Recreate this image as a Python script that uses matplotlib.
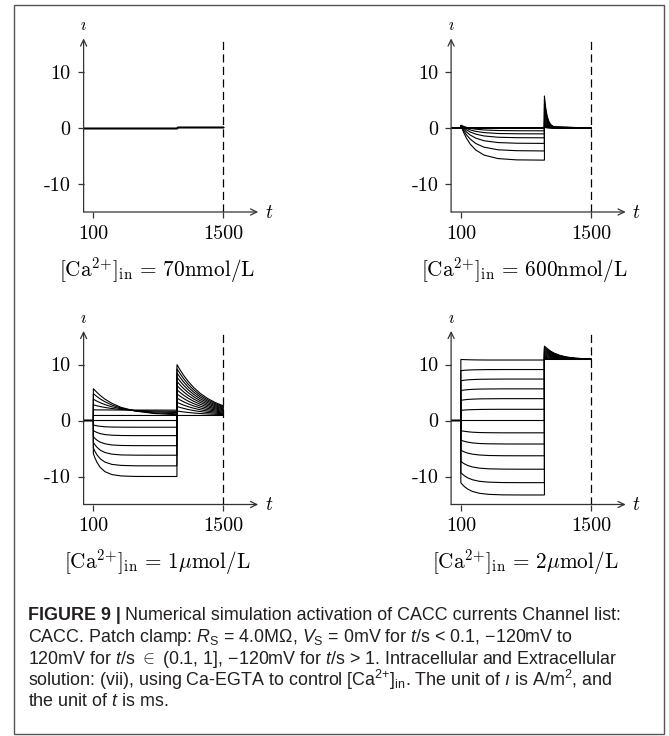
import matplotlib
matplotlib.use('Agg')
import matplotlib.pyplot as plt
from matplotlib import font_manager
from matplotlib.patches import Rectangle

# ---- data (t in ms, i in A/m^2) ----
# traces are ordered by clamp voltage -120mV ... 120mV (13 steps)
labels = [r'$[\mathrm{Ca}^{2{+}}]_{\mathrm{in}}\,=\,70\mathrm{nmol/L}$',
          r'$[\mathrm{Ca}^{2{+}}]_{\mathrm{in}}\,=\,600\mathrm{nmol/L}$',
          r'$[\mathrm{Ca}^{2{+}}]_{\mathrm{in}}\,=\,1\mu\mathrm{mol/L}$',
          r'$[\mathrm{Ca}^{2{+}}]_{\mathrm{in}}\,=\,2\mu\mathrm{mol/L}$']

# 70 nmol/L: everything stays at zero
t_pulse_70 = [100, 1000]
i_pulse_70 = [[0.0, 0.0]] * 13
t_tail_70 = [1000, 1500]
i_tail_70 = [[0.1, 0.1]] * 13

# 600 nmol/L
t_pulse_600 = [100, 110, 130, 160, 200, 260, 350, 500, 700, 1000]
i_pulse_600 = [
    [0.5, 0.04, -0.79, -1.81, -2.86, -3.92, -4.84, -5.46, -5.69, -5.74],
    [0.5, 0.16, -0.45, -1.20, -1.97, -2.76, -3.43, -3.89, -4.05, -4.10],
    [0.5, 0.26, -0.17, -0.70, -1.25, -1.80, -2.28, -2.60, -2.72, -2.75],
    [0.5, 0.33, 0.04, -0.33, -0.71, -1.09, -1.42, -1.65, -1.73, -1.75],
    [0.5, 0.39, 0.18, -0.07, -0.33, -0.60, -0.82, -0.98, -1.03, -1.05],
    [0.5, 0.43, 0.29, 0.13, -0.04, -0.21, -0.35, -0.45, -0.49, -0.50],
    [0.0, 0.0, 0.0, 0.0, 0.0, 0.0, 0.0, 0.0, 0.0, 0.0],
    [0.0, 0.0, 0.0, 0.0, 0.0, 0.0, 0.0, 0.0, 0.0, 0.0],
    [0.0, 0.0, 0.0, 0.0, 0.0, 0.0, 0.0, 0.0, 0.0, 0.0],
    [0.0, 0.0, 0.0, 0.0, 0.0, 0.0, 0.0, 0.0, 0.0, 0.0],
    [0.0, 0.0, 0.0, 0.0, 0.0, 0.0, 0.0, 0.0, 0.0, 0.0],
    [0.0, 0.0, 0.0, 0.0, 0.0, 0.0, 0.0, 0.0, 0.0, 0.0],
    [0.0, 0.0, 0.0, 0.0, 0.0, 0.0, 0.0, 0.0, 0.0, 0.0],
]
t_tail_600 = [1000, 1005, 1012, 1020, 1030, 1045, 1065, 1100, 1500]
i_tail_600 = [
    [5.75, 4.86, 3.85, 2.95, 2.12, 1.28, 0.66, 0.21, 0.0],
    [5.00, 4.23, 3.35, 2.57, 1.84, 1.12, 0.58, 0.18, 0.0],
    [4.30, 3.64, 2.88, 2.21, 1.58, 0.96, 0.49, 0.15, 0.0],
    [3.60, 3.05, 2.41, 1.85, 1.32, 0.80, 0.41, 0.13, 0.0],
    [2.90, 2.45, 1.94, 1.49, 1.07, 0.65, 0.33, 0.10, 0.0],
    [2.20, 1.86, 1.47, 1.13, 0.81, 0.49, 0.25, 0.08, 0.0],
    [1.60, 1.35, 1.07, 0.82, 0.59, 0.36, 0.18, 0.06, 0.0],
    [1.20, 1.02, 0.80, 0.62, 0.44, 0.27, 0.14, 0.04, 0.0],
    [0.90, 0.76, 0.60, 0.46, 0.33, 0.20, 0.10, 0.03, 0.0],
    [0.60, 0.51, 0.40, 0.31, 0.22, 0.13, 0.07, 0.02, 0.0],
    [0.40, 0.34, 0.27, 0.21, 0.15, 0.09, 0.05, 0.01, 0.0],
    [0.20, 0.17, 0.13, 0.10, 0.07, 0.04, 0.02, 0.01, 0.0],
    [0.10, 0.08, 0.07, 0.05, 0.04, 0.02, 0.01, 0.00, 0.0],
]

# 1 umol/L
t_pulse_1u = [100, 115, 140, 175, 225, 300, 400, 550, 750, 1000]
i_pulse_1u = [
    [-5.9, -6.60, -7.51, -8.39, -9.14, -9.66, -9.90, -9.99, -10.0, -10.0],
    [-4.9, -5.45, -6.16, -6.85, -7.43, -7.84, -8.02, -8.09, -8.1, -8.1],
    [-3.9, -4.29, -4.80, -5.30, -5.72, -6.01, -6.15, -6.19, -6.2, -6.2],
    [-2.9, -3.17, -3.53, -3.87, -4.16, -4.37, -4.46, -4.49, -4.5, -4.5],
    [-1.8, -1.95, -2.15, -2.35, -2.51, -2.63, -2.68, -2.70, -2.7, -2.7],
    [-0.8, -0.87, -0.96, -1.04, -1.12, -1.17, -1.19, -1.20, -1.2, -1.2],
    [0.0, 0.0, 0.0, 0.0, 0.0, 0.0, 0.0, 0.0, 0.0, 0.0],
    [0.9, 0.9, 0.9, 0.9, 0.9, 0.9, 0.9, 0.9, 0.9, 0.9],
    [1.9, 1.9, 1.9, 1.89, 1.89, 1.88, 1.87, 1.86, 1.86, 1.85],
    [2.8, 2.73, 2.62, 2.49, 2.33, 2.14, 1.96, 1.80, 1.69, 1.63],
    [3.8, 3.66, 3.44, 3.17, 2.84, 2.45, 2.09, 1.75, 1.53, 1.42],
    [4.8, 4.59, 4.25, 3.84, 3.35, 2.76, 2.21, 1.71, 1.37, 1.20],
    [5.7, 5.42, 4.99, 4.46, 3.81, 3.06, 2.34, 1.69, 1.26, 1.03],
]
t_tail_1u = [1000, 1030, 1070, 1120, 1180, 1250, 1330, 1420, 1500]
i_tail_1u = [
    [10.0, 9.14, 8.11, 7.00, 5.90, 4.86, 3.93, 3.15, 2.62],
    [9.25, 8.46, 7.51, 6.49, 5.48, 4.53, 3.68, 2.96, 2.48],
    [8.50, 7.78, 6.92, 5.99, 5.07, 4.21, 3.43, 2.78, 2.34],
    [7.75, 7.10, 6.33, 5.49, 4.66, 3.88, 3.18, 2.59, 2.19],
    [7.00, 6.42, 5.73, 4.99, 4.25, 3.55, 2.93, 2.41, 2.05],
    [6.25, 5.74, 5.14, 4.48, 3.84, 3.23, 2.68, 2.22, 1.91],
    [5.50, 5.06, 4.54, 3.98, 3.43, 2.90, 2.43, 2.04, 1.77],
    [4.75, 4.38, 3.95, 3.48, 3.01, 2.57, 2.18, 1.85, 1.63],
    [4.00, 3.71, 3.36, 2.98, 2.60, 2.25, 1.93, 1.67, 1.49],
    [3.25, 3.03, 2.76, 2.47, 2.19, 1.92, 1.68, 1.48, 1.34],
    [2.50, 2.35, 2.17, 1.97, 1.78, 1.60, 1.43, 1.30, 1.20],
    [1.70, 1.62, 1.53, 1.44, 1.34, 1.25, 1.17, 1.10, 1.05],
    [0.90, 0.90, 0.90, 0.90, 0.90, 0.90, 0.90, 0.90, 0.90],
]

# 2 umol/L
t_pulse_2u = [100, 115, 140, 175, 225, 300, 400, 550, 750, 1000]
i_pulse_2u = [
    [-11.1, -11.41, -11.83, -12.26, -12.67, -13.0, -13.19, -13.28, -13.3, -13.3],
    [-9.3, -9.55, -9.89, -10.25, -10.58, -10.86, -11.01, -11.08, -11.1, -11.1],
    [-7.3, -7.49, -7.76, -8.04, -8.30, -8.51, -8.63, -8.68, -8.7, -8.7],
    [-5.3, -5.44, -5.63, -5.83, -6.01, -6.16, -6.25, -6.29, -6.3, -6.3],
    [-3.5, -3.60, -3.73, -3.87, -4.00, -4.11, -4.16, -4.19, -4.2, -4.2],
    [-1.8, -1.86, -1.93, -2.01, -2.09, -2.15, -2.18, -2.20, -2.2, -2.2],
    [0.0, 0.0, 0.0, 0.0, 0.0, 0.0, 0.0, 0.0, 0.0, 0.0],
    [1.8, 1.83, 1.87, 1.91, 1.94, 1.97, 1.99, 2.0, 2.0, 2.0],
    [3.6, 3.64, 3.70, 3.76, 3.81, 3.86, 3.88, 3.9, 3.9, 3.9],
    [5.35, 5.39, 5.45, 5.51, 5.56, 5.61, 5.63, 5.65, 5.65, 5.65],
    [7.1, 7.14, 7.20, 7.26, 7.31, 7.36, 7.38, 7.4, 7.4, 7.4],
    [8.9, 8.93, 8.97, 9.01, 9.04, 9.07, 9.09, 9.1, 9.1, 9.1],
    [10.9, 10.89, 10.87, 10.85, 10.83, 10.81, 10.8, 10.8, 10.8, 10.8],
]
t_tail_2u = [1000, 1020, 1045, 1075, 1110, 1160, 1230, 1330, 1500]
i_tail_2u = [
    [13.3, 12.98, 12.64, 12.30, 11.99, 11.67, 11.36, 11.13, 10.97],
    [13.1, 12.81, 12.50, 12.19, 11.90, 11.60, 11.32, 11.11, 10.96],
    [12.9, 12.63, 12.35, 12.07, 11.81, 11.54, 11.29, 11.09, 10.96],
    [12.7, 12.46, 12.21, 11.95, 11.72, 11.47, 11.25, 11.07, 10.95],
    [12.5, 12.29, 12.06, 11.84, 11.63, 11.41, 11.21, 11.05, 10.94],
    [12.3, 12.11, 11.92, 11.72, 11.54, 11.35, 11.17, 11.03, 10.94],
    [12.1, 11.94, 11.77, 11.60, 11.45, 11.28, 11.13, 11.01, 10.93],
    [11.9, 11.77, 11.63, 11.49, 11.36, 11.22, 11.09, 11.00, 10.93],
    [11.7, 11.59, 11.48, 11.37, 11.26, 11.16, 11.05, 10.98, 10.92],
    [11.5, 11.42, 11.34, 11.25, 11.17, 11.09, 11.02, 10.96, 10.92],
    [11.3, 11.25, 11.19, 11.13, 11.08, 11.03, 10.98, 10.94, 10.91],
    [11.1, 11.07, 11.05, 11.02, 10.99, 10.96, 10.94, 10.92, 10.91],
    [10.9, 10.9, 10.9, 10.9, 10.9, 10.9, 10.9, 10.9, 10.9],
]

x_ticks = [100, 1500]
y_ticks = [-10, 0, 10]
y_tick_labels = ['-10', '0', '10']

caption = [
    'Numerical simulation activation of CACC currents Channel list:',
    r'CACC. Patch clamp: $R_{\mathrm{S}}$ = 4.0MΩ, $V_{\mathrm{S}}$ = 0mV for $t$/s < 0.1, −120mV to',
    r'120mV for $t$/s $\in$ (0.1, 1], −120mV for $t$/s > 1. Intracellular and Extracellular',
    r'solution: (vii), using Ca-EGTA to control [Ca$^{2{+}}$]$_{\mathrm{in}}$. The unit of $\imath$ is A/m$^2$, and',
    r'the unit of $t$ is ms.',
]

# ---- fonts ----
names = {f.name for f in font_manager.fontManager.ttflist}
cap_font = 'Liberation Sans' if 'Liberation Sans' in names else 'DejaVu Sans'
plt.rcParams['mathtext.fontset'] = 'custom'
plt.rcParams['mathtext.rm'] = cap_font
plt.rcParams['mathtext.it'] = cap_font + ':italic'
plt.rcParams['mathtext.bf'] = cap_font + ':bold'
plt.rcParams['axes.unicode_minus'] = False

W, H = 669, 736
fig = plt.figure(figsize=(W / 100, H / 100), dpi=100)

AX_COL = '#333333'
lefts = [83.6, 451.1, 83.6, 451.1]
bottoms = [212.0, 212.0, 504.5, 504.5]
ax_w, ax_h = 174.6, 173.6

panels = [(t_pulse_70, i_pulse_70, t_tail_70, i_tail_70),
          (t_pulse_600, i_pulse_600, t_tail_600, i_tail_600),
          (t_pulse_1u, i_pulse_1u, t_tail_1u, i_tail_1u),
          (t_pulse_2u, i_pulse_2u, t_tail_2u, i_tail_2u)]

for n, (tp, ip, tt, it) in enumerate(panels):
    ax = fig.add_axes([lefts[n] / W, 1 - bottoms[n] / H, ax_w / W, ax_h / H])
    for row_p, row_t in zip(ip, it):
        ax.plot([0, 100] + tp + tt, [0, 0] + row_p + row_t,
                color='black', lw=0.8, solid_joinstyle='miter')
    ax.plot([1500, 1500], [-15, 16], color='black', lw=0.9,
            linestyle=(0, (6.5, 3.5)))
    ax.set_xlim(-5, 1875)
    ax.set_ylim(-15, 16)
    for s in ax.spines.values():
        s.set_visible(False)
    arrow = dict(arrowstyle='->,head_length=0.45,head_width=0.22', lw=0.9,
                 color=AX_COL, shrinkA=0, shrinkB=0)
    ax.annotate('', xy=(1, 0), xytext=(0, 0), xycoords='axes fraction',
                arrowprops=arrow, annotation_clip=False)
    ax.annotate('', xy=(0, 1), xytext=(0, 0), xycoords='axes fraction',
                arrowprops=arrow, annotation_clip=False)
    ax.set_xticks(x_ticks)
    ax.set_xticklabels([str(v) for v in x_ticks])
    ax.set_yticks(y_ticks)
    ax.set_yticklabels(y_tick_labels)
    ax.tick_params(direction='out', length=4.3, width=0.9, color=AX_COL,
                   labelsize=14.5)
    ax.tick_params(axis='x', pad=5)
    ax.tick_params(axis='y', pad=5)
    for lab in ax.get_xticklabels() + ax.get_yticklabels():
        lab.set_fontfamily('cmr10')
    ax.annotate(r'$\imath$', xy=(0, 1), xycoords='axes fraction',
                xytext=(0, 9.6), textcoords='offset points', ha='center',
                va='center', fontsize=12, math_fontfamily='cm')
    ax.annotate(r'$t$', xy=(1, 0), xycoords='axes fraction',
                xytext=(7.7, 0), textcoords='offset points', ha='center',
                va='center', fontsize=14, math_fontfamily='cm')
    ax.text(0.422, -0.335, labels[n], transform=ax.transAxes, ha='center',
            va='center', fontsize=15.3, math_fontfamily='cm')

# caption
x0 = 28.5 / W
line_y = [616, 637, 659, 680, 701]
fam = [cap_font, 'DejaVu Sans']
cap_size = 12.9
head = fig.text(x0, 1 - line_y[0] / H, 'FIGURE 9 |', fontsize=cap_size,
                fontweight='bold', family=fam, va='center', color='#231f20')
bb = head.get_window_extent(renderer=fig.canvas.get_renderer())
fig.text((bb.x1 + 4) / W, 1 - line_y[0] / H, caption[0], fontsize=cap_size,
         family=fam, va='center', color='#231f20')
for k in range(1, 5):
    fig.text(x0, 1 - line_y[k] / H, caption[k], fontsize=cap_size, family=fam,
             va='center', color='#231f20', math_fontfamily='custom')

fig.patches.append(Rectangle((14 / W, 1 - 734 / H), 650 / W, 729.5 / H,
                             transform=fig.transFigure, fill=False,
                             ec='#555555', lw=1.0))

fig.savefig('out.png', dpi=100)
